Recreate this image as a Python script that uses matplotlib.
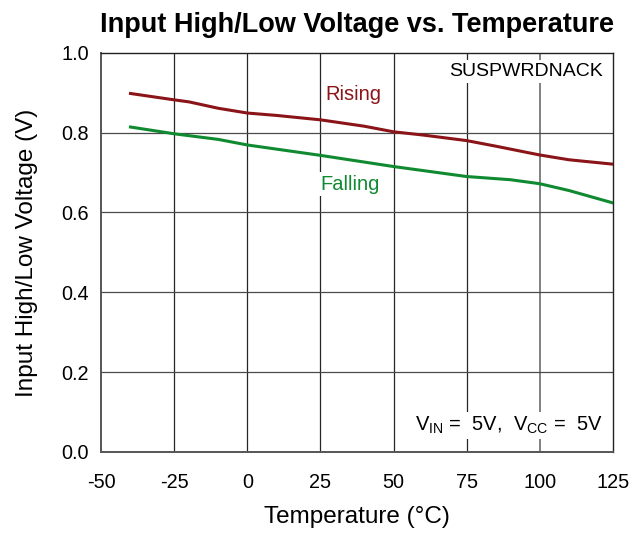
import matplotlib
matplotlib.use("Agg")
import matplotlib.pyplot as plt

plt.rcParams['font.family'] = ['Liberation Sans', 'DejaVu Sans']

# Threshold voltages vs. temperature
temp_rising = [-40, -25, -20, -10, 0, 10, 25, 40, 50, 60, 75, 85, 100, 110, 125]
v_rising = [0.898, 0.882, 0.877, 0.861, 0.849, 0.843, 0.832, 0.816, 0.802, 0.794, 0.780, 0.766, 0.744, 0.732, 0.721]
temp_falling = [-40, -25, -10, 0, 25, 50, 75, 90, 100, 110, 125]
v_falling = [0.814, 0.797, 0.783, 0.769, 0.743, 0.715, 0.690, 0.682, 0.672, 0.655, 0.624]

x_ticks = [-50, -25, 0, 25, 50, 75, 100, 125]
y_ticks = [0.0, 0.2, 0.4, 0.6, 0.8, 1.0]

rising_color = "#8B1418"
falling_color = "#108A30"

fig = plt.figure(figsize=(6.33, 5.33), dpi=100)
ax = fig.add_axes([0.160, 0.152, 0.808, 0.749])

for x in x_ticks[1:-1]:
    c, w = ("#808080", 1.4) if x == 100 else ("#262626", 0.9)
    ax.axvline(x, color=c, lw=w, zorder=1)
for y in y_ticks[1:-1]:
    ax.axhline(y, color="#4a4a4a", lw=0.9, zorder=1)

ax.plot(temp_rising, v_rising, color=rising_color, lw=2.2, zorder=3)
ax.plot(temp_falling, v_falling, color=falling_color, lw=2.2, zorder=3)

ax.set_xlim(-50, 125)
ax.set_ylim(0, 1.0)
ax.set_xticks(x_ticks)
ax.set_yticks(y_ticks)
ax.set_xticklabels([str(v) for v in x_ticks])
ax.set_yticklabels([f"{v:.1f}" for v in y_ticks])
ax.tick_params(axis="both", length=0, labelsize=14.3)
ax.tick_params(axis="x", pad=15)
ax.tick_params(axis="y", pad=9)

for side, s in ax.spines.items():
    s.set_color("#222222" if side in ("top", "right") else "#555555")
    s.set_linewidth(1.0 if side in ("top", "right") else 1.4)

ax.text(26.6, 0.896, "Rising", color=rising_color, fontsize=14.5, ha="left", va="center",
        bbox=dict(facecolor="white", edgecolor="none", pad=0.5), zorder=4)
ax.text(25.0, 0.671, "Falling", color=falling_color, fontsize=14.5, ha="left", va="center",
        bbox=dict(facecolor="white", edgecolor="none", pad=2), zorder=4)
ax.text(121.5, 0.953, "SUSPWRDNACK", color="black", fontsize=14, ha="right", va="center",
        bbox=dict(facecolor="white", edgecolor="none", pad=2), zorder=4)
ax.text(121.5, 0.067, r"V$_{\mathregular{IN}}$ =  5V,  V$_{\mathregular{CC}}$ =  5V", color="black",
        fontsize=14.5, ha="right", va="center",
        bbox=dict(facecolor="white", edgecolor="none", pad=2), zorder=4)

ax.set_title("Input High/Low Voltage vs. Temperature", fontsize=19.5, fontweight="bold", pad=15)
ax.set_xlabel("Temperature (°C)", fontsize=17.5, labelpad=10)
ax.set_ylabel("Input High/Low Voltage (V)", fontsize=17.5, labelpad=17)

fig.savefig("out.png", dpi=100)
